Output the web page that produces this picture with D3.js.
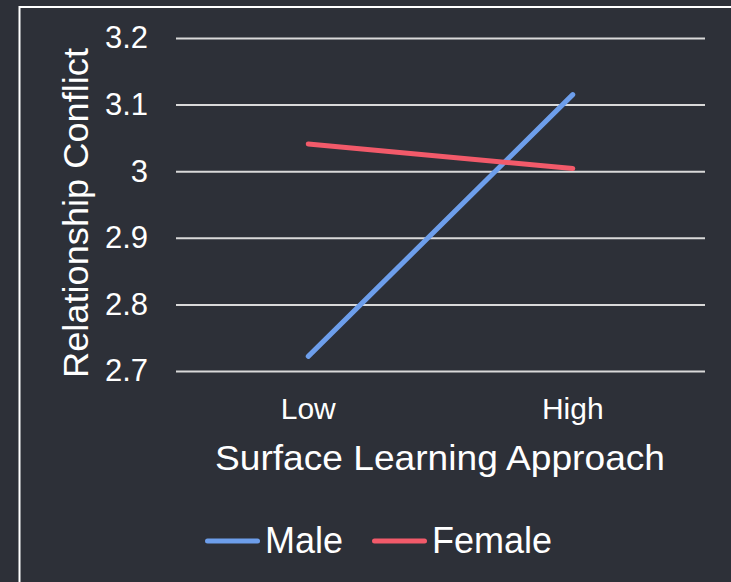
<!DOCTYPE html>
<html>
<head>
<meta charset="utf-8">
<script src="https://cdn.jsdelivr.net/npm/d3@7"></script>
<style>
  html, body { margin: 0; padding: 0; background: #2d3038; }
  svg { display: block; }
  text { font-family: "Liberation Sans", Arial, sans-serif; fill: #ffffff; }
</style>
</head>
<body>
<svg id="chart" width="731" height="582"></svg>
<script>
// Interaction plot: relationship conflict by surface learning approach and gender
const categories = ["Low", "High"];
const maleValues = [2.722, 3.115];
const femaleValues = [3.041, 3.004];
const yTicks = [2.7, 2.8, 2.9, 3.0, 3.1, 3.2];
const seriesNames = ["Male", "Female"];
const seriesColors = ["#6d9eeb", "#f25a6a"];

const W = 731, H = 582;
const plot = { left: 176, right: 705, top: 38, bottom: 371 };
const FONT = "'Liberation Sans', Arial, sans-serif";

const svg = d3.select("#chart");

svg.append("rect").attr("width", W).attr("height", H).attr("fill", "#2d3038");

// chart frame (runs off the right and bottom edges)
svg.append("rect")
  .attr("x", 19.5).attr("y", 7)
  .attr("width", W + 20).attr("height", H + 20)
  .attr("fill", "none").attr("stroke", "#ffffff").attr("stroke-width", 2);

const x = d3.scaleBand().domain(categories).range([plot.left, plot.right]);
const y = d3.scaleLinear().domain([2.7, 3.2]).range([plot.bottom, plot.top]);

// gridlines + y tick labels
const yAxis = d3.axisLeft(y)
  .tickValues(yTicks)
  .tickSize(-(plot.right - plot.left))
  .tickPadding(28)
  .tickFormat(d => d3.format("")(+d.toFixed(1)));

const gy = svg.append("g")
  .attr("transform", `translate(${plot.left},0)`)
  .call(yAxis);
gy.select(".domain").remove();
gy.selectAll(".tick line").attr("stroke", "#d9d9d9").attr("stroke-width", 2);
gy.selectAll(".tick text")
  .attr("font-size", 31)
  .attr("fill", "#ffffff")
  .style("font-family", FONT);

// x category labels
const xAxis = d3.axisBottom(x).tickSize(0).tickPadding(27);
const gx = svg.append("g")
  .attr("transform", `translate(0,${plot.bottom})`)
  .call(xAxis);
gx.select(".domain").remove();
gx.selectAll(".tick text")
  .attr("font-size", 30)
  .attr("fill", "#ffffff")
  .style("font-family", FONT);

// axis titles
svg.append("text")
  .attr("x", 440).attr("y", 470)
  .attr("text-anchor", "middle")
  .attr("font-size", 35)
  .attr("textLength", 450)
  .attr("lengthAdjust", "spacingAndGlyphs")
  .text("Surface Learning Approach");

svg.append("text")
  .attr("transform", "translate(87.5,213) rotate(-90)")
  .attr("text-anchor", "middle")
  .attr("font-size", 35)
  .attr("textLength", 330)
  .attr("lengthAdjust", "spacingAndGlyphs")
  .text("Relationship Conflict");

// series lines
const series = [maleValues, femaleValues];
const line = d3.line()
  .x((d, i) => x(categories[i]) + x.bandwidth() / 2)
  .y(d => y(d));

series.forEach((vals, k) => {
  svg.append("path")
    .datum(vals)
    .attr("d", line)
    .attr("fill", "none")
    .attr("stroke", seriesColors[k])
    .attr("stroke-width", 5)
    .attr("stroke-linecap", "round");
});

// legend
const legendItems = [
  { name: seriesNames[0], color: seriesColors[0], x: 207.5 },
  { name: seriesNames[1], color: seriesColors[1], x: 374.5 }
];
legendItems.forEach(it => {
  svg.append("line")
    .attr("x1", it.x).attr("x2", it.x + 50)
    .attr("y1", 541).attr("y2", 541)
    .attr("stroke", it.color).attr("stroke-width", 5)
    .attr("stroke-linecap", "round");
  svg.append("text")
    .attr("x", it.x + 57.5).attr("y", 553)
    .attr("font-size", 36)
    .text(it.name);
});
</script>
</body>
</html>
